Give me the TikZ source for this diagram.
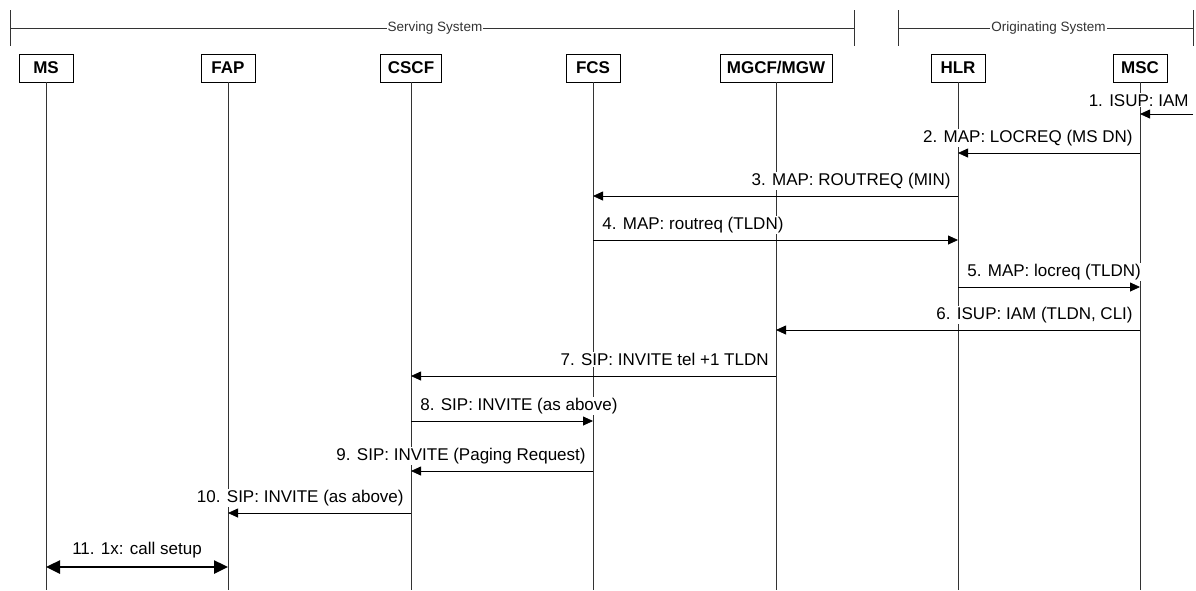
\documentclass[tikz,border=0pt]{standalone}
\usepackage{fontspec}
\setmainfont{Liberation Sans}
\usetikzlibrary{arrows.meta}

\tikzset{
  ent/.style={draw,line width=0.8pt,minimum width=54pt,minimum height=28pt,inner xsep=7pt,font=\fontsize{17}{20}\selectfont\bfseries},
  life/.style={line width=0.8pt,black!80},
  msg/.style={line width=0.8pt,-{Triangle[length=10pt,width=9pt]}},
  callx/.style={line width=2.5pt,{Triangle[length=14pt,width=13pt]}-{Triangle[length=14pt,width=13pt]}},
  lbl/.style={fill=white,inner sep=1pt,font=\fontsize{17}{20}\selectfont},
  sys/.style={fill=white,inner sep=1pt,font=\fontsize{13.5}{16}\selectfont}
}

\begin{document}
\begin{tikzpicture}[x=1pt,y=-1pt]
  \useasboundingbox (0,0) rectangle (1196,590);

  % system brackets
  \coordinate (sL) at (10,28);
  \coordinate (sR) at (854,28);
  \coordinate (oL) at (898,28);
  \coordinate (oR) at (1193,28);
  \draw[life] (sL) -- (sR) node[sys,midway,xshift=3pt] {Serving System};
  \draw[life] (oL) -- (oR) node[sys,midway,xshift=3pt] {Originating System};
  \foreach \c in {sL,sR,oL,oR}
    \draw[life] ([yshift=18pt]\c) -- ([yshift=-18pt]\c);

  % entities
  \node[ent] (MS)   at (46,68)   {MS};
  \node[ent] (FAP)  at (228,68)  {FAP};
  \node[ent] (CSCF) at (411,68)  {CSCF};
  \node[ent] (FCS)  at (593,68)  {FCS};
  \node[ent] (MGCF) at (776,68)  {MGCF/MGW};
  \node[ent] (HLR)  at (958,68)  {HLR};
  \node[ent] (MSC)  at (1140,68) {MSC};

  \coordinate (bot) at (0,590);
  \foreach \n in {MS,FAP,CSCF,FCS,MGCF,HLR,MSC}
    \draw[life] (\n.south) -- (\n |- bot);

  % messages
  \coordinate (ext) at (1193,114);
  \draw[msg] (ext) -- (MSC |- ext)
    node[lbl,pos=0,anchor=base east,xshift=-3pt,yshift=8pt] {1. ISUP: IAM};

  \foreach \from/\to/\y/\txt in {MSC/HLR/153/{2. MAP: LOCREQ (MS DN)},
      HLR/FCS/196/{3. MAP: ROUTREQ (MIN)},
      MSC/MGCF/330/{6. ISUP: IAM (TLDN, CLI)},
      MGCF/CSCF/376/{7. SIP: INVITE tel +1 TLDN},
      FCS/CSCF/471/{9. SIP: INVITE (Paging Request)},
      CSCF/FAP/513/{10. SIP: INVITE (as above)}}
    \draw[msg] (\from |- 0,\y) -- (\to |- 0,\y)
      node[lbl,pos=0,anchor=base east,xshift=-6pt,yshift=10.5pt] {\txt};

  \foreach \from/\to/\y/\txt in {FCS/HLR/240/{4. MAP: routreq (TLDN)},
      HLR/MSC/287/{5. MAP: locreq (TLDN)},
      CSCF/FCS/421/{8. SIP: INVITE (as above)}}
    \draw[msg] (\from |- 0,\y) -- (\to |- 0,\y)
      node[lbl,pos=0,anchor=base west,xshift=8pt,yshift=10.5pt] {\txt};

  \draw[callx] (MS |- 0,567) -- (FAP |- 0,567)
    node[lbl,midway,anchor=base,yshift=12.5pt] {11. 1x: call setup};

\end{tikzpicture}
\end{document}
